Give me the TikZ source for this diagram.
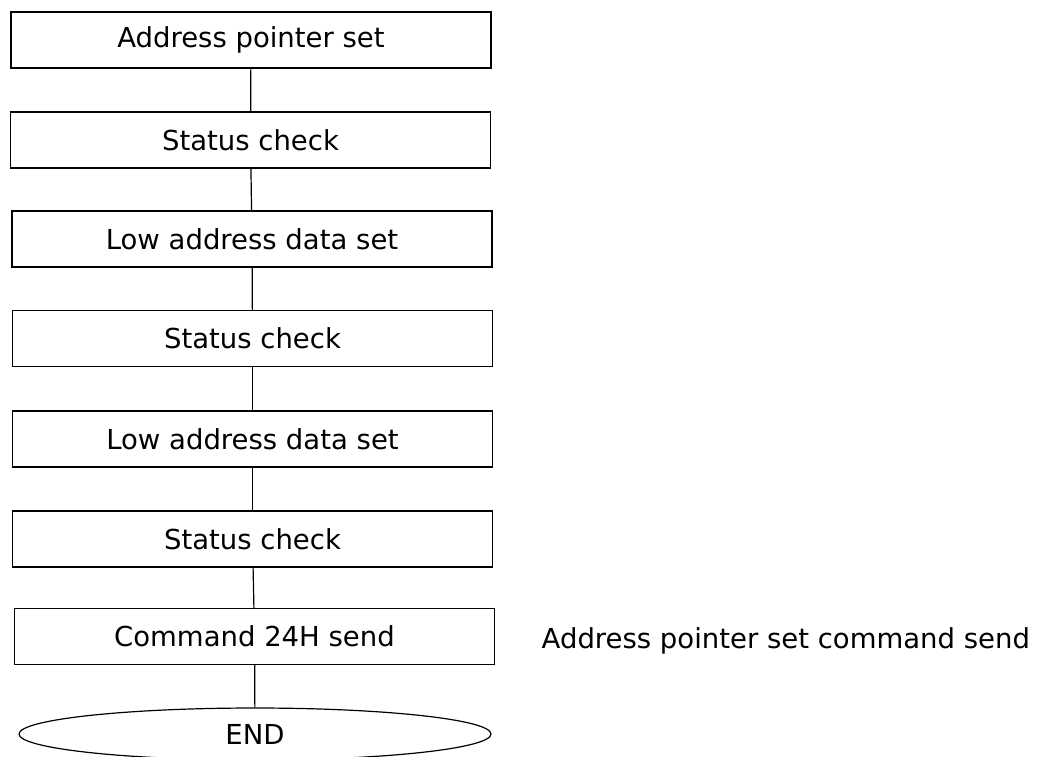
\documentclass[tikz,border=0pt]{standalone}
\usepackage{fontspec}
\setmainfont{DejaVu Sans}
\usepackage{tikz}
\usetikzlibrary{positioning,shapes.geometric}

\begin{document}
\begin{tikzpicture}[x=1pt,y=-1pt,line width=1.2pt,
        every node/.style={font=\fontsize{27.5}{33}\selectfont},
        stepbox/.style={draw,rectangle,minimum width=480pt,minimum height=56pt,inner sep=0pt},
        endbox/.style={draw,ellipse,minimum width=472pt,minimum height=52pt,inner sep=0pt},
        note/.style={inner sep=0pt}]
        \useasboundingbox (0,0) rectangle (1051,756);
        \clip (0,0) rectangle (1051,756);
        \node[stepbox] (addr) at (251,40) {Address pointer set};
        \node[stepbox] (chk1) at (250.5,140) {Status check};
        \node[stepbox] (low1) at (252,239) {Low address data set};
        \node[stepbox] (chk2) at (252.5,338.5) {Status check};
        \node[stepbox] (low2) at (252.5,439) {Low address data set};
        \node[stepbox] (chk3) at (252.5,539) {Status check};
        \node[stepbox] (cmd) at (254.5,636.5) {Command 24H send};
        \node[endbox] (fin) at (255,734) {END};
        \node[note, right=46pt of cmd, yshift=-4pt] (cmdnote) {Address pointer set command send};
        \draw (addr) -- (chk1);
        \draw (chk1) -- (low1);
        \draw (low1) -- (chk2);
        \draw (chk2) -- (low2);
        \draw (low2) -- (chk3);
        \draw (chk3) -- (cmd);
        \draw (cmd) -- (fin);
    \end{tikzpicture}
\end{document}
